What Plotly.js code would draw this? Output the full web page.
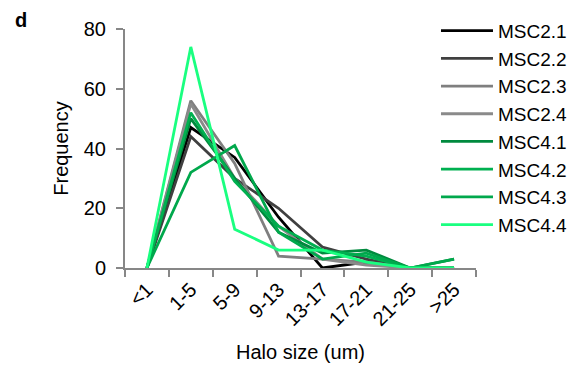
<!DOCTYPE html>
<html>
<head>
<meta charset="utf-8">
<script src="https://cdn.plot.ly/plotly-3.0.1.min.js"></script>
<style>html,body{margin:0;padding:0;background:#fff;}#chart{width:585px;height:373px;}</style>
</head>
<body>
<div id="chart"></div>
<script>
const categories = ["<1", "1-5", "5-9", "9-13", "13-17", "17-21", "21-25", ">25"];
const seriesNames = ["MSC2.1", "MSC2.2", "MSC2.3", "MSC2.4", "MSC4.1", "MSC4.2", "MSC4.3", "MSC4.4"];
const msc21 = [0, 47, 37, 17, 0, 2, 0, 0];
const msc22 = [0, 44, 30, 20, 7, 3, 0, 0];
const msc23 = [0, 56, 35, 4, 3, 2, 0, 0];
const msc24 = [0, 55, 30, 14, 3, 1, 0, 0];
const msc41 = [0, 50, 30, 12, 5, 6, 0, 3];
const msc42 = [0, 52, 29, 14, 6, 4, 0, 0];
const msc43 = [0, 32, 41, 12, 3, 5, 0, 3];
const msc44 = [0, 74, 13, 6, 6, 2, 0, 0];
const seriesValues = [msc21, msc22, msc23, msc24, msc41, msc42, msc43, msc44];
const seriesColors = ["#000000", "#404040", "#7f7f7f", "#8a8a8a", "#008a3e", "#00b050", "#00a84c", "#1aff80"];

const traces = seriesNames.map((name, i) => ({
  type: "scatter",
  mode: "lines",
  name: name,
  x: categories,
  y: seriesValues[i],
  line: {color: seriesColors[i], width: 2.8},
  hoverinfo: "skip"
}));

const font = "Liberation Sans, Arial, sans-serif";
const layout = {
  width: 585, height: 373,
  margin: {l: 125, r: 91, t: 26, b: 105},
  paper_bgcolor: "#fff", plot_bgcolor: "rgba(0,0,0,0)",
  font: {family: font, size: 20, color: "#000"},
  showlegend: true,
  legend: {x: 0.886, y: 1.072, xanchor: "left", yanchor: "top", bgcolor: "rgba(0,0,0,0)",
           font: {family: font, size: 19, color: "#000"}, tracegroupgap: 0, itemwidth: 52,
           maxheight: 1},
  xaxis: {
    type: "category", range: [-0.5, 7.5], showgrid: false, zeroline: false,
    showline: true, linecolor: "#878787", linewidth: 2,
    ticks: "outside", tickson: "boundaries", ticklen: 7, tickwidth: 2, tickcolor: "#878787",
    tickangle: -45, tickfont: {family: font, size: 20},
    title: {text: "Halo size (um)", font: {family: font, size: 20}, standoff: 16}
  },
  yaxis: {
    range: [0, 80], dtick: 20, showgrid: false, zeroline: false,
    showline: true, linecolor: "#878787", linewidth: 2,
    ticks: "outside", ticklen: 7, tickwidth: 2, tickcolor: "#878787",
    tickfont: {family: font, size: 20}, ticklabelstandoff: 6,
    title: {text: "Frequency", font: {family: font, size: 20}, standoff: 10}
  },
  annotations: [{text: "<b>d</b>", xref: "paper", yref: "paper", x: -0.32, y: 1.09,
                 xanchor: "left", yanchor: "top", showarrow: false, font: {family: font, size: 20}}]
};

Plotly.newPlot("chart", traces, layout, {staticPlot: true, displayModeBar: false});
</script>
</body>
</html>
